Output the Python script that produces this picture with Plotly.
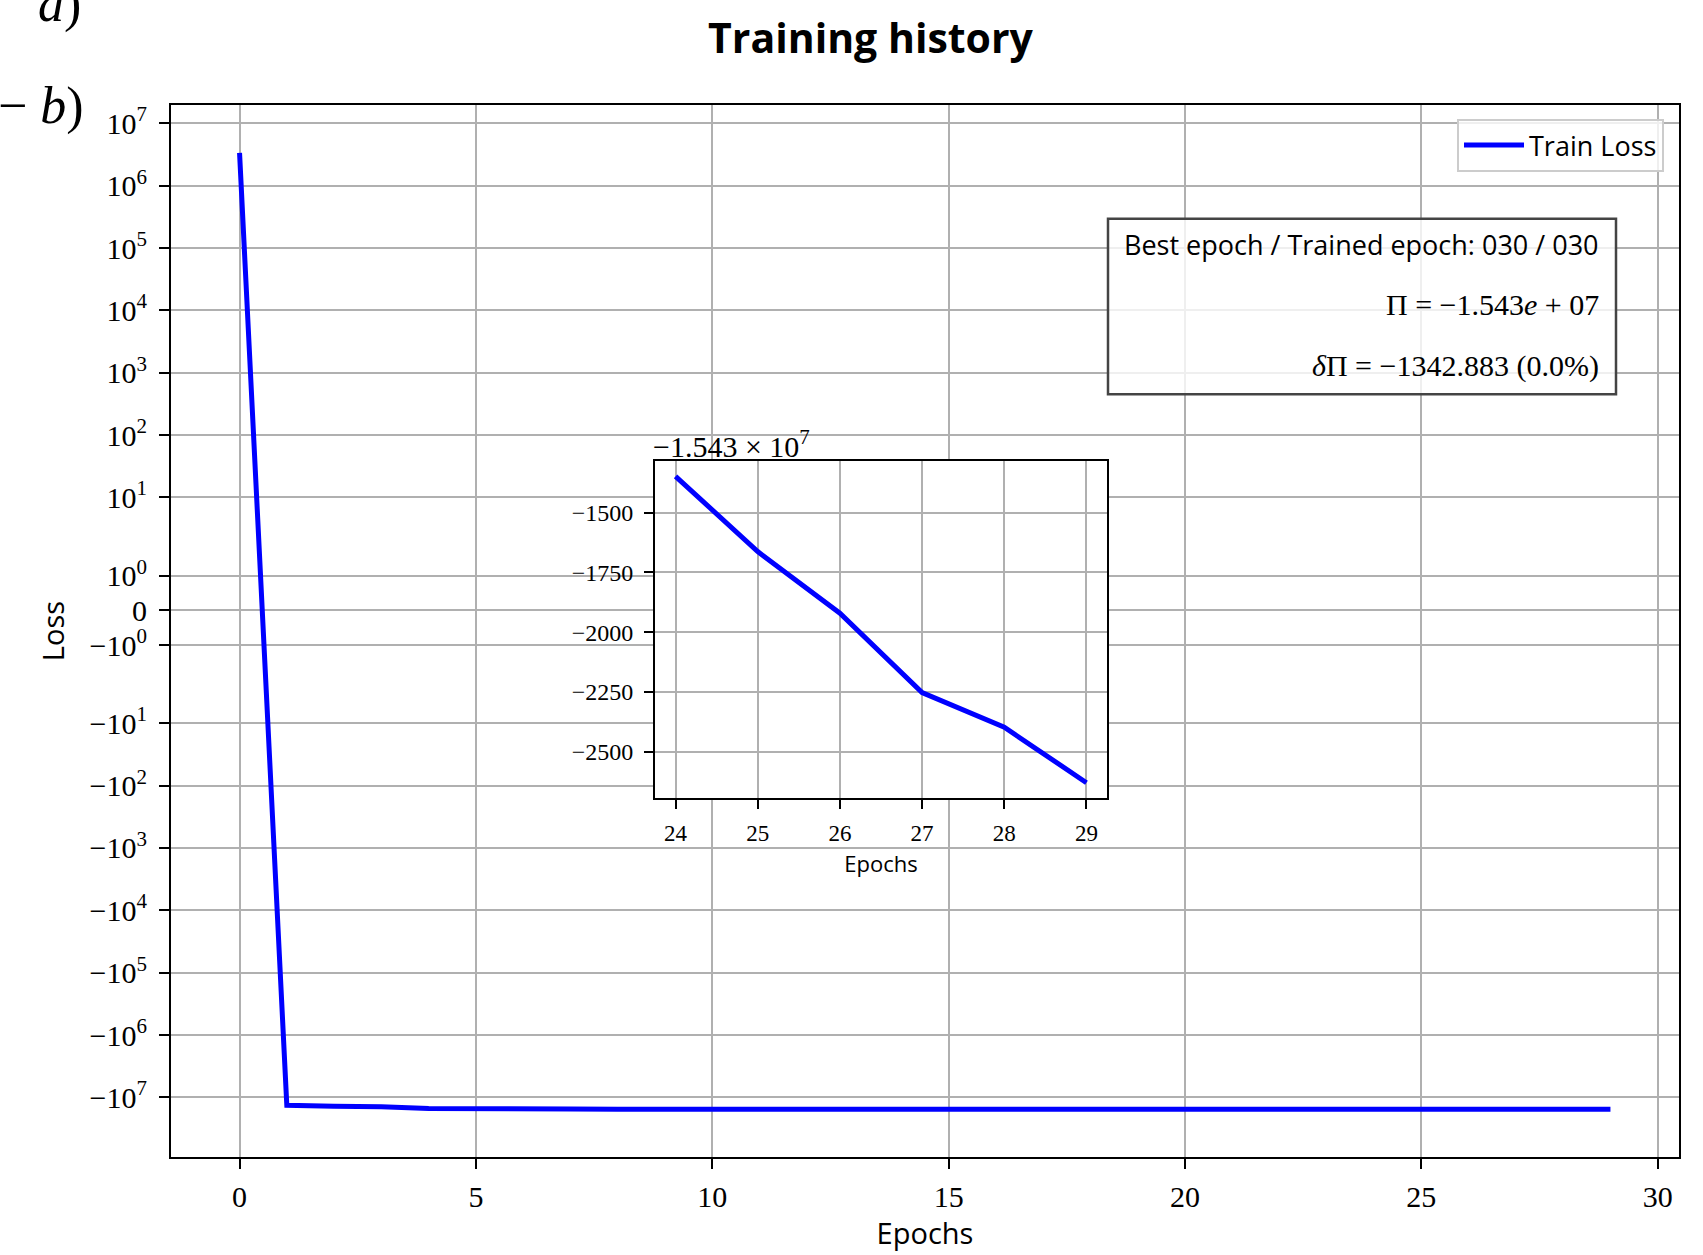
import math
import plotly.graph_objects as go

# ---------------- data ----------------
epochs = list(range(30))
train_loss = [
    3.36e6, -1.34e7, -1.39e7, -1.41e7, -1.50e7, -1.535e7,
    -15378000, -15392000, -15402000, -15409000, -15414000,
    -15417800, -15420700, -15423000, -15424800, -15426200,
    -15427300, -15428200, -15428900, -15429500, -15430000,
    -15430400, -15430750, -15431050, -15431348, -15431663,
    -15431921, -15432253, -15432398, -15432630,
]
inset_start = 24
inset_offset = -1.543e7

y_tick_values = [1e7, 1e6, 1e5, 1e4, 1e3, 1e2, 1e1, 1e0, 0,
                 -1e0, -1e1, -1e2, -1e3, -1e4, -1e5, -1e6, -1e7]
y_tick_labels = ["10<sup>7</sup>", "10<sup>6</sup>", "10<sup>5</sup>", "10<sup>4</sup>",
                 "10<sup>3</sup>", "10<sup>2</sup>", "10<sup>1</sup>", "10<sup>0</sup>", "0",
                 "−10<sup>0</sup>", "−10<sup>1</sup>", "−10<sup>2</sup>", "−10<sup>3</sup>",
                 "−10<sup>4</sup>", "−10<sup>5</sup>", "−10<sup>6</sup>", "−10<sup>7</sup>"]
x_tick_values = [0, 5, 10, 15, 20, 25, 30]
inset_y_ticks = [-1500, -1750, -2000, -2250, -2500]
inset_y_labels = ["−1500", "−1750", "−2000", "−2250", "−2500"]
inset_x_ticks = [24, 25, 26, 27, 28, 29]

box_lines = ["Best epoch / Trained epoch: 030 / 030",
             "Π = −1.543<i>e</i> + 07",
             "<i>δ</i>Π = −1342.883 (0.0%)"]

# ---------------- symlog transform (linthresh=2, linscale=1) ----------------
LINTHRESH = 2.0
LINSCALE_ADJ = 1.0 / (1.0 - 1.0 / 10.0)


def symlog(v):
    if abs(v) <= LINTHRESH:
        return v * LINSCALE_ADJ / LINTHRESH
    s = 1.0 if v > 0 else -1.0
    return s * (LINSCALE_ADJ + math.log10(abs(v) / LINTHRESH))


y_main = [symlog(v) for v in train_loss]
ymin_t, ymax_t = min(y_main), max(y_main)
pad = 0.05 * (ymax_t - ymin_t)
y_range = [ymin_t - pad, ymax_t + pad]
x_range = [min(epochs) - 0.05 * (max(epochs) - min(epochs)),
           max(epochs) + 0.05 * (max(epochs) - min(epochs))]

inset_x = epochs[inset_start:]
inset_y = [v - inset_offset for v in train_loss[inset_start:]]
ipad = 0.05 * (max(inset_y) - min(inset_y))
inset_y_range = [min(inset_y) - ipad, max(inset_y) + ipad]
inset_x_range = [min(inset_x) - 0.05 * (max(inset_x) - min(inset_x)),
                 max(inset_x) + 0.05 * (max(inset_x) - min(inset_x))]

# ---------------- layout geometry (pixels) ----------------
W, H = 1703, 1255
PL, PR, PT, PB = 171, 1679, 105, 1160


def px_x(x):
    return (x - PL) / (PR - PL)


def px_y(y):
    return (PB - y) / (PB - PT)


SANS = "Open Sans"
SERIF = "Liberation Serif"
GRID = "#b0b0b0"

fig = go.Figure()
fig.add_trace(go.Scatter(x=epochs, y=y_main, mode="lines", name="Train Loss",
                         line=dict(color="#0000ff", width=5),
                         xaxis="x", yaxis="y"))
fig.add_trace(go.Scatter(x=inset_x, y=inset_y, mode="lines", showlegend=False,
                         line=dict(color="#0000ff", width=5),
                         xaxis="x2", yaxis="y2"))

axis_common = dict(showline=True, linecolor="black", linewidth=2, mirror=True,
                   ticks="outside", tickcolor="black", tickwidth=2,
                   showgrid=True, gridcolor=GRID, gridwidth=2, zeroline=False)

fig.update_layout(
    width=W, height=H,
    margin=dict(l=PL, r=W - PR, t=PT, b=H - PB, pad=0),
    paper_bgcolor="white", plot_bgcolor="white",
    title=dict(text="<b>Training history</b>", font=dict(family=SANS, size=41, color="black"),
               x=870.5 / W, xanchor="center",
               y=1 - 39 / H, yref="container", yanchor="middle"),
    xaxis=dict(domain=[0, 1], anchor="y", range=x_range, tickvals=x_tick_values,
               ticktext=[str(v) for v in x_tick_values], ticklen=10,
               tickfont=dict(family=SERIF, size=30, color="black"), ticklabelstandoff=2,
               title=dict(text="Epochs", font=dict(family=SANS, size=29, color="black"), standoff=10),
               **axis_common),
    yaxis=dict(domain=[0, 1], anchor="x", range=y_range,
               tickvals=[symlog(v) for v in y_tick_values], ticktext=y_tick_labels, ticklen=10,
               tickfont=dict(family=SERIF, size=30, color="black"), ticklabelstandoff=6,
               title=dict(text="Loss", font=dict(family=SANS, size=29, color="black"), standoff=16),
               **axis_common),
    xaxis2=dict(domain=[px_x(655), px_x(1107)], anchor="y2", range=inset_x_range,
                tickvals=inset_x_ticks, ticktext=[str(v) for v in inset_x_ticks], ticklen=9,
                tickfont=dict(family=SERIF, size=23, color="black"), ticklabelstandoff=4,
                title=dict(text="Epochs", font=dict(family=SANS, size=22, color="black"), standoff=12),
                **axis_common),
    yaxis2=dict(domain=[px_y(800), px_y(462)], anchor="x2", range=inset_y_range,
                tickvals=inset_y_ticks, ticktext=inset_y_labels, ticklen=9,
                tickfont=dict(family=SERIF, size=24, color="black"), ticklabelstandoff=6,
                **axis_common),
    legend=dict(x=px_x(1664), xanchor="right", y=px_y(119), yanchor="top",
                bgcolor="rgba(255,255,255,0.8)", bordercolor="#cccccc", borderwidth=2,
                itemwidth=60,
                font=dict(family=SANS, size=27, color="black")),
    showlegend=True,
)

# white background for the inset (covers main grid)
fig.add_shape(type="rect", xref="x2 domain", yref="y2 domain", x0=0, x1=1, y0=0, y1=1,
              fillcolor="white", line=dict(width=0), layer="below")

# info box
fig.add_shape(type="rect", xref="paper", yref="paper",
              x0=px_x(1108), x1=px_x(1616), y0=px_y(395), y1=px_y(219),
              fillcolor="rgba(255,255,255,0.8)", line=dict(color="#444444", width=2.5),
              layer="above")
fig.add_annotation(text=box_lines[0], xref="paper", yref="paper", x=px_x(1601), y=px_y(245),
                   xanchor="right", yanchor="middle", showarrow=False,
                   font=dict(family=SANS, size=27, color="black"))
fig.add_annotation(text=box_lines[1], xref="paper", yref="paper", x=px_x(1601), y=px_y(305),
                   xanchor="right", yanchor="middle", showarrow=False,
                   font=dict(family=SERIF, size=30, color="black"))
fig.add_annotation(text=box_lines[2], xref="paper", yref="paper", x=px_x(1601), y=px_y(367),
                   xanchor="right", yanchor="middle", showarrow=False,
                   font=dict(family=SERIF, size=30, color="black"))

# inset offset text
fig.add_annotation(text="−1.543 × 10<sup>7</sup>", xref="paper", yref="paper",
                   x=px_x(651), y=px_y(445), xanchor="left", yanchor="middle", showarrow=False,
                   font=dict(family=SERIF, size=30, color="black"))

# panel labels (cropped figure artifacts)
fig.add_annotation(text="<i>a</i>)", xref="paper", yref="paper", x=px_x(36), y=px_y(4),
                   xanchor="left", yanchor="middle", showarrow=False,
                   font=dict(family=SERIF, size=52, color="black"))
fig.add_annotation(text="− <i>b</i>)", xref="paper", yref="paper", x=px_x(-4), y=px_y(106),
                   xanchor="left", yanchor="middle", showarrow=False,
                   font=dict(family=SERIF, size=52, color="black"))

fig.write_html("out.html")
